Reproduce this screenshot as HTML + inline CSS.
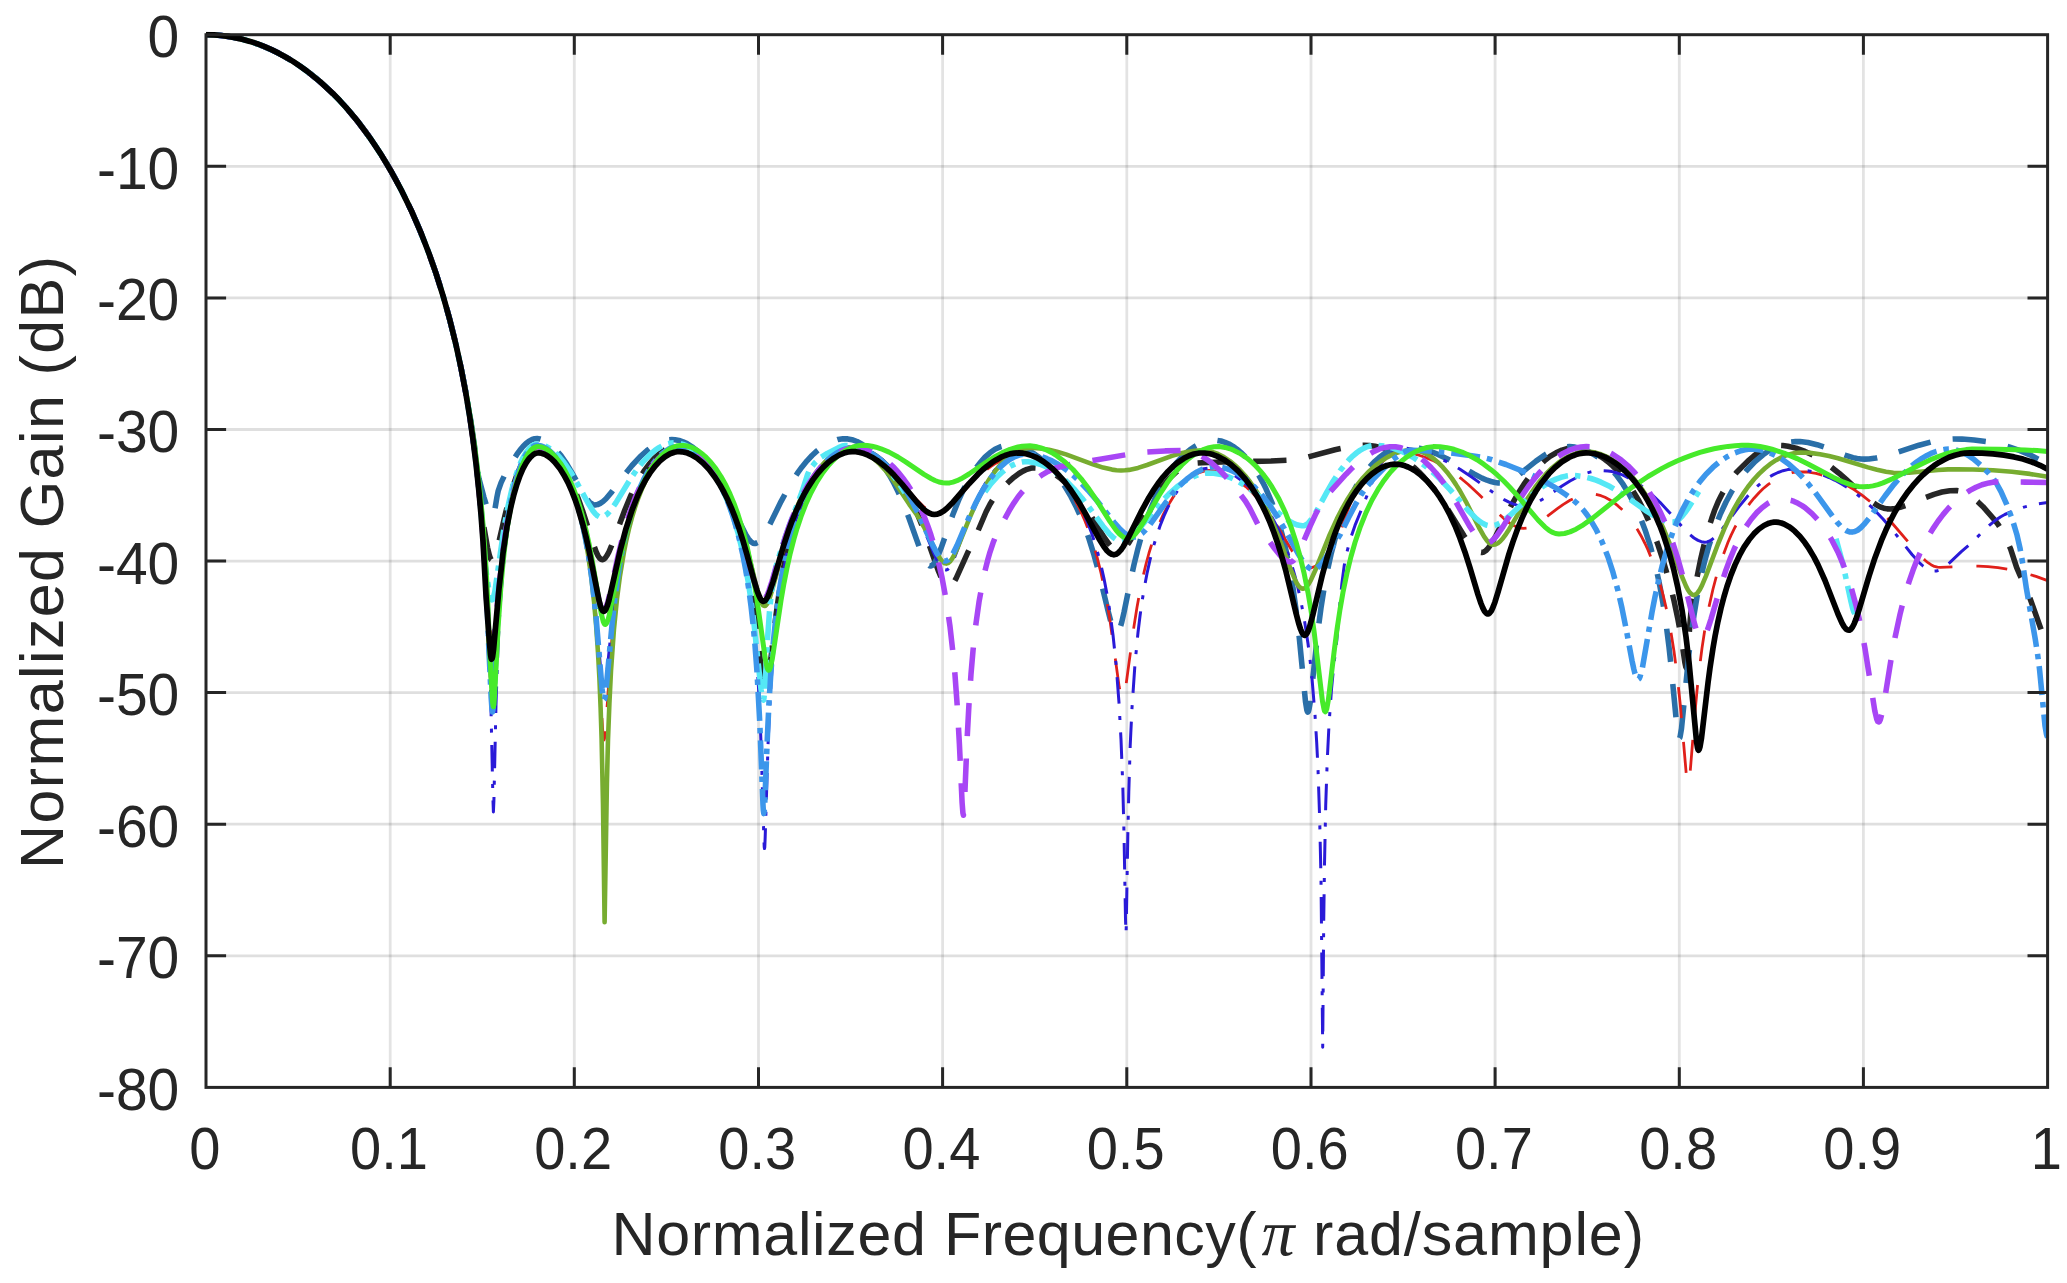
<!DOCTYPE html>
<html lang="en"><head><meta charset="utf-8"><title>Normalized Gain vs Normalized Frequency</title>
<style>html,body{margin:0;padding:0;background:#fff}body{width:2067px;height:1283px;overflow:hidden}svg{display:block}text{font-family:"Liberation Sans", sans-serif;fill:#262626}.tk{font-size:59px}.lb{font-size:61px}.cv{fill:none;stroke-linejoin:round;stroke-linecap:butt}</style></head><body>
<svg width="2067" height="1283" viewBox="0 0 2067 1283">
<rect width="2067" height="1283" fill="#fff"/>
<defs><clipPath id="ax"><rect x="206.0" y="31.7" width="1841.6" height="1055.7"/></clipPath></defs>
<path d="M390.2 34.7V1087.4M574.3 34.7V1087.4M758.5 34.7V1087.4M942.6 34.7V1087.4M1126.8 34.7V1087.4M1311.0 34.7V1087.4M1495.1 34.7V1087.4M1679.3 34.7V1087.4M1863.4 34.7V1087.4" stroke="#262626" stroke-opacity=".13" stroke-width="2.8" fill="none"/>
<path d="M206.0 166.3H2047.6M206.0 297.9H2047.6M206.0 429.5H2047.6M206.0 561.1H2047.6M206.0 692.6H2047.6M206.0 824.2H2047.6M206.0 955.8H2047.6" stroke="#262626" stroke-opacity=".15" stroke-width="2.8" fill="none"/>
<g clip-path="url(#ax)">
<path class="cv" d="M206 34.7L219 35.3L226 36.1L233 37.2L246 40.2L259 44.5L272 49.9L284 56.1L297 64L309 72.6L321 82.5L333 93.6L344 105.2L355 118L366 132.3L376 146.6L386 162.5L396 180L404 195.3L412 212.1L420 230.5L427 248.1L434 267.5L440 285.8L446 305.9L452 328.3L457 349.3L461 367.8L465 388.3L468 405.4L472 431.2L475 453.6L478 479.5L481 510.8L487.5 547.6L489.5 555.8L490.5 558.4L491.2 559.6L491.8 560L492.2 560L493.5 558.9L494.8 556.5L496.2 552.2L498 545.7L505 515.4L509 499.6L513 486.1L517 474.8L521 465.7L525 458.5L529 453.1L531 451.1L533.9 449L536.9 447.9L540.2 448L544 449L548 451L552 454.1L556 458L560 462.9L564 468.8L568 475.7L571 481.7L575 490.6L578 498L583 512L593 543.2L596.1 551.7L597.9 555.5L599.4 557.9L600.9 559.3L602.1 559.7L603.6 559.3L605.4 557.8L607.1 555.3L609 551.7L613 542.1L625 509.5L631 495.2L635 486.9L640 477.7L644 471.2L649 464.3L654 458.6L659 454L664 450.4L669 448L673.8 446.8L678.6 446.6L684 447.7L689 449.6L693 451.8L696 453.9L702 459L706 463.2L709 466.7L715 475.1L721 485.3L726 495.5L731 507.6L736 521.9L740 535.6L744 551.7L747 565.9L750 582.2L753 601.3L755 615.9L762.8 681.4L764.2 689.6L765 691.6L765.5 692L766 691.6L766.8 689.6L768.2 681.3L776 615.4L779 594L782 575.9L785 560.3L789 542.8L793 528L798 512.5L804 497.4L810 485L816 474.9L819 470.6L823 465.5L826 462.1L830 458.2L833 455.7L837 452.9L841 450.7L845 449.1L848.5 448.2L852 447.8L858 448.3L864 449.8L870 452.5L876 456.1L882 460.8L888 466.6L894 473.5L899 480.2L904 487.9L909 496.7L914 506.6L918 515.4L925 532.9L938 569.9L942 579.6L943.8 582.9L945.5 585.3L947 586.6L948.5 587L950.2 586.5L952 584.9L954 582.2L956 578.6L967.5 553.1L974.7 538.6L986 512L990 504.2L993.5 498.5L996.7 494.3L1004 486.6L1009 481.6L1014 477.2L1019 473.5L1023 471.1L1027 469.3L1030.5 468.3L1034.2 467.8L1038.2 468L1043 468.9L1047 470.3L1051 472.1L1056 475.1L1060 478L1065 482.3L1069 486.2L1073 490.6L1077 495.5L1082 502.1L1090 514.2L1104 537.1L1109 544.1L1112 547.5L1114.5 549.5L1117 550.7L1119.2 551L1121.5 550.4L1123.7 548.9L1126 546.6L1129 542.5L1134 534.1L1144 515.4L1150 504.8L1157 493.8L1163 485.7L1169 478.8L1176 472.3L1182 468L1188 465L1191.3 463.9L1194.3 463.2L1202 462.7L1222 462L1271 461L1291.4 460.1L1298 459.2L1305 457.8L1335 449.7L1349 446.8L1357 445.7L1363.9 445.3L1369.4 445.5L1375 446.2L1380 447.4L1386 449.4L1391 451.6L1397 454.8L1403 458.6L1408 462.3L1414 467.3L1419 472L1424 477.2L1429 483L1434 489.2L1439 496.1L1448 509.6L1464 535.8L1470 544.4L1473 547.8L1476.2 550.6L1479 552.1L1481.8 552.5L1483.8 552L1486 550.5L1488 548.4L1491 544.3L1496 535.5L1511 505.9L1519 491.9L1524 484.2L1529 477.3L1534 471.1L1539 465.8L1544 461.1L1550 456.4L1556 452.8L1562 450.1L1567 448.6L1572.7 447.8L1578.2 448.1L1584 449.1L1588 450.3L1592 451.9L1597 454.4L1601 456.8L1605 459.5L1609 462.7L1613 466.2L1617 470.2L1621 474.6L1625 479.5L1632 489.3L1639 501L1646 514.8L1652 528.7L1658 544.9L1663.8 562.7L1670 584.2L1674 600.6L1678 619.7L1681 635.8L1684.8 662.2L1685.8 666.8L1686.5 668L1687 665.9L1687.5 660.6L1689.5 629.3L1690.8 613.6L1692 603.5L1693.8 593.3L1700.8 558.6L1705 540.6L1708.5 528.4L1711.8 518.3L1714.8 509.8L1718 502.1L1721.5 495L1725.5 487.7L1729 482.2L1732.8 476.9L1736.2 472.8L1744 464.9L1749 460.1L1754 455.8L1759 452.1L1763 449.7L1767 447.7L1771 446.3L1774.6 445.5L1777.8 445.3L1782.8 445.5L1788 446.2L1796 448.1L1805 451.4L1813 455.2L1822 460.5L1830 466.1L1839 473.2L1847 480.2L1863 494.7L1870 500.6L1877 505.3L1880 506.9L1883.8 508.2L1887.2 508.9L1890.8 509L1895 508.5L1900 507.4L1908 504.7L1926 497.3L1934 494.3L1942 492L1949.8 490.7L1956.5 490.5L1959.2 490.9L1962 491.6L1965 492.8L1968 494.4L1974 498.5L1978 501.9L1983 506.7L1995 520.3L1998 524.3L2001 529L2005.8 538L2010.6 548.9L2016.6 567.4L2019.2 573.5L2025 585.8L2029.8 597.8L2041 629.2L2047.6 650" stroke="#262626" stroke-width="5.56" stroke-dasharray="33.3 22.3"/>
<path class="cv" d="M206 34.7L219 35.3L231 36.9L243 39.4L255 43L267 47.7L279 53.4L291 60.2L303 68.2L314 76.6L325 86L336 96.7L347 108.5L358 121.7L368 135L378 149.7L387 164.1L395 178.1L403 193.3L411 209.9L418 225.7L425 242.9L431 259L437 276.4L443 295.6L449 316.8L454 336.4L459 358.3L464 382.3L468 403.9L471 422.1L475 449.5L478 473.7L479 478.8L484 497.5L487 507L489.5 512.8L490.8 514.6L491.8 515.6L493 516L493.8 514.8L494.5 511.6L497 496.7L498.2 490.9L501.1 482.6L504.6 475.2L513 460.5L517 454.2L520 450.1L523 446.5L526 443.5L529 441.2L532.2 439.5L534.7 438.7L537.2 438.5L540 438.9L543 439.8L546 441.2L549 443.2L552 445.6L555 448.5L561 455.6L567 464.4L572 472.8L583 492.6L587 498.9L589.2 501.7L591.2 503.5L593.2 504.7L595 505L597.5 504.6L600.2 503.4L603 501.5L606 498.7L612 491.6L625 474.3L632 465.5L640 456.8L647 450.5L651 447.5L655 444.9L659 442.9L662 441.6L665 440.7L668.6 439.9L671.9 439.6L675.1 439.7L679 440.4L683 441.8L687 443.6L692 446.8L696 449.9L700 453.6L704 457.9L708 462.8L712 468.2L716 474.3L723 486.5L729 498.5L741 525.1L746 535L748.6 539.1L751.1 541.9L753.4 543.3L754.4 543.5L755.6 543.4L757.6 542.5L759.6 540.9L762 538.1L764 535.1L768 528L781 501.6L789 486.7L793 480L798 472.4L802 466.9L807 460.8L812 455.5L817 450.9L822 447L828 443.3L833 441.1L838 439.5L843 438.8L847.8 438.9L852 439.7L857 441.5L862 444.2L867 447.8L872 452.2L877 457.6L882 463.9L886 469.7L890 476.2L894 483.5L898 491.6L902 500.5L909 518.2L920 549.1L924 558.7L925.8 561.9L927.5 564.3L929.2 565.7L930.8 566L932.2 565.4L933.8 563.9L935.2 561.7L937 558.3L941 548.3L953 514.2L959 499.3L963 490.5L967 482.6L971 475.6L975 469.5L980 462.8L985 457.2L990 452.8L995 449.3L1000 446.9L1004.7 445.6L1009.5 445.3L1015 445.9L1022 447.8L1026 449.4L1030 451.4L1034 453.7L1038 456.5L1045 462.2L1052 469.3L1059 477.9L1065 486.6L1071 496.7L1076 506.4L1080 515.2L1085 527.6L1089 538.9L1094 554.9L1098 569.4L1108 610.6L1111 622.2L1112.8 627.4L1114.3 630.7L1115.5 632.4L1116.3 632.9L1117 633L1118 632.2L1119.3 630L1120.5 626.5L1121.8 622L1124 612.4L1130 583L1134 564.7L1138 548.4L1142 534.1L1146 521.6L1151 508L1156 496.3L1162 484.4L1169 472.8L1176 463.4L1183 455.8L1187 452.1L1191 449L1195 446.4L1199 444.2L1203 442.5L1206 441.5L1209.9 440.7L1213.6 440.3L1217.4 440.4L1221 441L1225 442.3L1229 444L1233 446.3L1237 449.2L1241 452.6L1245 456.5L1249 461.1L1252 465L1256 470.7L1259 475.6L1263 482.8L1266 488.8L1272 502.8L1277 516.9L1282 534L1286 550.4L1290 570.2L1293 588L1296 609.3L1299 634.8L1305.5 701.7L1306.8 709.9L1307.3 711.5L1307.8 712.1L1308.3 711.6L1309 709.3L1310.3 701.7L1318 630.4L1321 607.9L1324 588.9L1327 572.7L1331 554.4L1335 539L1339 525.9L1344 512L1350 498.1L1353 492.1L1357 484.8L1360 479.9L1364 474.1L1371 465.4L1375 461.3L1379 457.7L1383 454.6L1387 452.1L1391 450L1395 448.4L1399 447.2L1402.1 446.7L1405.3 446.6L1409.6 446.7L1414 447.2L1419 448.1L1424 449.3L1429 450.9L1438 454.4L1447 458.7L1456 463.6L1474 473.9L1482 478.1L1487 480.2L1491 481.5L1495 482.5L1498.2 482.9L1501.7 483L1504.5 482.7L1508 481.5L1511 480.1L1518 475.5L1536 461.1L1545 454.8L1550 451.9L1555 449.6L1560 447.8L1564.4 446.9L1569.4 446.6L1575 447.1L1581 448.5L1587 450.8L1593 454L1598 457.3L1604 462.1L1609 466.8L1616 474.7L1623 484.2L1629 494L1635 505.4L1640 516.6L1645 529.7L1650 545.1L1654 559.7L1657 572.4L1660 586.8L1663 603.6L1666 623.3L1669 647L1671 665.4L1677 728L1678.2 736.2L1678.7 737.9L1679.2 738.5L1679.7 738L1680.2 736.4L1681.5 728.5L1689 653L1691 636.4L1694 615L1697 597L1701 576.8L1705 559.9L1709 545.6L1714 530.3L1720 514.9L1726 502L1732 491L1739 480.2L1743 474.8L1747 470L1755 461.6L1763 454.8L1767 452L1772 448.9L1777 446.4L1782 444.4L1787 442.9L1791 442.1L1795.5 441.6L1800 441.6L1808 442.5L1817 444.7L1826 447.7L1845 455.1L1853 457.6L1857 458.5L1861 459L1864.6 459.1L1868.9 459L1876 458L1885 456L1894 453.3L1919 445.2L1933 441.5L1941 440.1L1948 439.3L1954 439L1962 439.1L1974 440L1986 441.5L1998 443.9L2009 446.9L2020 450.7L2030 454.9L2039 459.6L2047.6 465" stroke="#2a6fa8" stroke-width="5.56" stroke-dasharray="33.3 22.3"/>
<path class="cv" d="M206 34.7L214 34.9L221 35.5L228 36.4L235 37.6L242 39.2L249 41.1L256 43.4L263 46L270 49L277 52.3L290 59.6L297 64L304 68.9L317 79L330 90.7L337 97.7L343 104.1L355 118L367 133.7L378 149.7L389 167.5L399 185.6L409 205.6L418 225.7L426 245.5L434 267.5L441 289L447 309.5L453 332.3L458 353.7L464 382.7L468 404.7L472 430L475 451.8L478 477.2L481 507.7L483 532.2L485 561.8L487 598.9L490.2 630L491.2 636.6L492.2 639.9L492.8 639.9L493.5 637.9L494.8 630.2L502 561.1L504 545.6L507 526L510 509.9L513 496.7L517 482.4L521 471.2L525 462.7L527 459.3L530 455.2L532.2 453L534.2 451.5L536.4 450.6L538.4 450.3L541.7 450.8L545 452.1L548 453.9L551 456.3L554 459.3L557 462.9L560 467.2L563 472.2L567 480L571 489.4L575 500.6L578 510.5L581 522L584 535.4L587 551.3L589 563.7L591 577.9L593 594.5L596 625.4L598.8 662.9L602.5 727.6L603.2 736.6L603.8 739.6L604 740L604.2 739.7L604.8 737.4L605.5 730.2L611 649.7L613 626.7L615 607.4L618 583.7L621 564.4L624 548.3L628 530.5L633 512.6L638 498.2L641 490.9L644 484.3L647 478.6L650 473.4L653 468.9L657 463.6L660 460.3L664 456.6L668 453.8L671 452.2L674.1 451.1L677.4 450.4L679.9 450.4L682.6 450.6L688 452L691 453.2L694 454.8L700 458.9L706 464.5L711 470.1L717 478.3L722 486.5L726 494L730 502.5L734 512L737 520L741 531.8L745 545L756 586.6L758.7 595.9L760.5 600.8L762 604L763.5 605.9L764.7 606.4L766 605.9L767.5 604.2L769 601.2L770.5 597.4L774 585.7L783 552.6L788 536.1L791 527.2L795 516.4L798 509L802 500.2L806 492.4L810 485.4L814 479.2L819 472.5L823 467.9L828 462.9L833 458.9L838 455.7L842 453.8L846.8 452.3L850.8 451.7L854.8 451.7L859 452.2L864 453.5L869 455.5L874 458.1L878 460.6L883 464.3L887 467.7L892 472.3L901 481.8L917 500.1L923 506.1L926 508.5L929.2 510.5L932 511.6L934.8 512L937.8 511.7L941 510.7L944 509.1L948 506.3L955 500L972 482.6L981 474.2L986 470.1L991 466.4L996 463.2L1001 460.5L1006 458.3L1011 456.7L1016.1 455.7L1021.1 455.4L1025.6 455.7L1030 456.7L1035 458.4L1040 460.9L1047 465.5L1054 471.5L1061 479.1L1068 488.5L1074 498.1L1080 509.6L1085 520.9L1090 534.1L1094 546.4L1097 556.9L1101 572.9L1104 586.7L1107 602.5L1110 620.6L1119.2 686.9L1121 695L1121.8 696.9L1122.5 697.5L1123.2 696.8L1124 694.9L1125.8 686.5L1134 626.1L1137 607.2L1140 590.8L1143 576.5L1146 564L1149 553L1153 540.1L1158 526.5L1163 515.1L1168 505.4L1174 495.8L1180 487.9L1186 481.6L1192 476.7L1196 474.3L1199 472.8L1204.1 471.1L1209 470.5L1214.8 470.9L1221 472.2L1227 474.4L1233 477.4L1240 482L1246 486.8L1252 492.5L1257 497.9L1263 505.2L1268 511.9L1276 524L1292 550.8L1298 559.8L1301 563.4L1303.8 566L1306.2 567.4L1308.8 568L1311.2 567.8L1314 566.9L1317 565.2L1320 563L1326 557.2L1334.8 547L1336.2 544.1L1338 539.6L1346 515L1351 501.7L1353.2 496.9L1355.2 493.2L1362 483.4L1366 478.3L1371 472.7L1386 458.5L1391 454.5L1393.5 453.1L1395.8 452.3L1399.2 452L1406 452.5L1412 453.5L1419 455.2L1425 457.2L1432 460.1L1438 463.1L1445 467.1L1456 474.6L1462 479.2L1468 484.3L1479 494.5L1498 513.3L1506 520.4L1510 523.4L1513 525.2L1517 527.1L1520 528L1523.6 528.4L1527.1 528L1531 526.8L1535 524.9L1542 520.3L1557 508.9L1563 504.6L1570 500.3L1577 497L1583 495L1586.2 494.4L1589.5 494L1595.2 494.3L1601 495.7L1605 497.3L1610 500L1614 502.7L1618 505.9L1622 509.6L1626 513.9L1630 518.8L1634 524.3L1638 530.5L1641 535.7L1645 543.5L1648 550L1654 565L1659 580.2L1663 594.6L1667 611.7L1671 632.5L1674 651.3L1677 674L1680 701.8L1686.2 773.2L1687.2 780.7L1687.7 782.8L1688.2 783.5L1688.7 782.7L1689 781.5L1690 774.1L1695 712.5L1697 690.7L1699 671.9L1702 648.1L1705 628.4L1709 606.8L1713 589L1717 573.9L1722 558.1L1728 542.3L1731 535.4L1735 527.2L1742 514.8L1746 508.6L1750 503.1L1754 498.2L1759 492.7L1763 488.8L1768 484.6L1772 481.7L1777 478.5L1781 476.5L1785 474.8L1792 472.7L1795.5 472.1L1799 471.8L1807 472L1816 473.4L1826 476L1836 479.8L1846 484.8L1854 489.6L1862 495.1L1870 501.5L1877 507.7L1884 514.5L1892 523L1914 548.7L1921 556.4L1925 560.2L1928 562.7L1931 564.7L1934.4 566.4L1937.4 567.2L1940.4 567.4L1968 566.2L1978.4 566.2L1988 566.6L1998 567.6L2011 569.7L2023 572.5L2036 576.4L2047.6 580.7" stroke="#e0201a" stroke-width="2.78" stroke-dasharray="31 24"/>
<path class="cv" d="M206 34.7L214 34.9L223 35.7L231 36.9L239 38.5L247 40.5L255 43L263 46L271 49.4L279 53.4L287 57.8L295 62.7L302 67.5L310 73.4L317 79L325 86L332 92.7L339 99.8L346 107.4L353 115.6L360 124.3L367 133.7L373 142.2L380 152.8L386 162.5L392 172.8L398 183.7L409 205.6L419 228.1L429 253.5L437 276.4L444 299L451 324.4L457 349.3L464 382.1L469 409.2L474 441.4L478 472.8L481 501.4L484 537.1L486 567.2L488 605.9L490.1 666.7L492.9 798.1L493.4 811.9L493.9 800.9L496 704.5L498 647.2L499.4 619.4L501 594.6L503 570.3L505 551L507 535L510 515.7L513 500.3L517 484.1L521 471.8L525 462.4L527 458.7L529 455.6L531 453.1L533.9 450.5L536.2 449.4L538.4 449.1L541.7 449.5L545 450.8L548 452.6L551 455L554 458L557 461.6L560 465.9L563 470.8L568 480.8L573 493.2L578 508.8L582 524.2L585 538L588 554.3L591 573.9L594 597.8L596 616.7L601.5 678.2L602.8 687.4L603.3 689.3L603.8 690L604.3 689.5L605 687.1L606.3 678.6L612 622.6L615 597.1L618 575.9L622 552.8L627 530L630 518.7L633 508.8L636 500.1L639 492.3L642 485.4L646 477.4L650 470.5L654 464.7L658 459.8L663 454.9L668 451.2L672 449.3L676 448.1L680 447.8L685 448.6L690 450.4L695 453.3L700 457.1L705 462L709 466.7L714 473.7L718 480.2L724 492L729 503.8L734 518.1L738 531.8L742 548.3L745 562.9L748 580.3L751 601.5L753 618.6L755 639L757 664.2L758.8 692.3L761 742.1L763.8 835.6L764.2 847L764.5 848.6L764.8 847.1L765.2 836.6L768.2 739.8L770.5 692.5L772 669L774 643.8L776 623.4L779 598.7L782 578.9L786 557.6L790 540.3L794 525.8L799 510.8L804 498.4L810 486.1L816 476L819 471.7L823 466.6L827 462.3L831 458.5L835 455.4L839 453L843 451.1L846 450L849.5 449.3L853 449.1L857 449.4L861 450.2L865 451.5L869 453.3L873 455.5L877 458.2L884 464L891 471.3L898 480.2L904 489.2L911 501.5L917 513.7L923 527.2L933 551.3L937 560L940 565.2L942 567.8L944.2 569.6L946.2 570L947.8 569.4L949.5 567.7L951.2 564.9L953 561.4L957 551.3L968 520.5L974 505.7L978 497L982 489.2L986 482.3L990 476.2L994 470.9L999 465.3L1004 460.9L1009 457.5L1013 455.6L1017.8 454.3L1022 454.1L1027 454.7L1033 456.3L1039 458.8L1045 462.4L1051 466.8L1057 472.4L1062 477.8L1068 485.5L1073 493.1L1078 501.7L1083 511.7L1087 520.9L1091 531.4L1095 543.4L1098 553.7L1101 565.3L1104 578.6L1107 594.1L1109 606L1113 634.9L1116 663.5L1119 702.6L1121 739.4L1122.8 785.5L1124 834L1125.5 918.8L1126 933.7L1126.2 928.6L1127.8 836.4L1128.8 791.7L1130.2 745.5L1132 708L1135 663.7L1138 632.5L1140 616L1142 601.8L1144 589.4L1147 573.5L1150 559.9L1153 548.1L1156 537.9L1160 526L1164 515.9L1168 507.1L1173 497.8L1178 490L1183 483.6L1188 478.3L1193 474.1L1196 472.1L1199 470.5L1204 468.7L1208.8 468L1214.8 468.3L1221 469.6L1228 472.2L1235 475.8L1242 480.7L1248 485.8L1255 492.9L1261 500.3L1267 508.9L1272 517.2L1277 526.7L1282 537.7L1287 550.5L1291 562.4L1295 576.2L1298 588.1L1301 601.7L1304 617.5L1308 643.5L1310 659.5L1312 678.3L1315 714.8L1316.7 742.6L1318 768.7L1319.7 820L1321 879.1L1322.7 1047.2L1323.7 923.3L1324.5 864.6L1325.7 805.7L1327.2 761.2L1329 724.8L1331.5 689.2L1333.8 665.6L1336.8 640.2L1340 602.3L1342 582.5L1344.2 565.6L1346.5 553.7L1350.2 539.5L1355 525.4L1364.2 502.7L1372 482.7L1377 471.1L1381 463.4L1384 458.5L1388 453.4L1391 450.6L1394 448.7L1396.8 447.9L1402 447.9L1408 448.5L1415 449.7L1422 451.5L1429 453.7L1436 456.5L1448 462.2L1460 469.3L1472 477.3L1495 493.8L1504 499.6L1509 502.2L1513 503.9L1517 505.1L1521.2 505.9L1525 506L1528.8 505.5L1533 504.2L1537 502.4L1545 497.8L1562 486.1L1570 481L1578 476.7L1586 473.3L1590 472.1L1594 471.2L1600.9 470.5L1608 470.9L1612 471.6L1616 472.7L1623 475.2L1630 478.6L1637 482.8L1644 487.9L1652 494.6L1660 502.3L1668 510.9L1683 527.7L1690 534.7L1694 538L1698 540.4L1701.3 541.7L1704.3 542.2L1707 541.9L1709.8 540.9L1713 538.7L1716 536L1722 529.2L1739 506.6L1748 495.7L1753 490.4L1758 485.7L1763 481.5L1768 477.9L1773 474.9L1778 472.5L1783 470.7L1787.7 469.6L1792.2 469.2L1797.9 469.4L1804 470L1810 471.2L1816 472.7L1822 474.7L1829 477.5L1835 480.3L1842 484.2L1848 487.9L1854 492.1L1860 496.8L1866 501.9L1872 507.5L1883 519L1893 530.7L1912 554.5L1919 562.3L1923 566L1927 568.8L1930.4 570.4L1933.6 571.1L1936.4 571L1939.4 570.1L1943 568.1L1946 565.9L1950 562.4L1961.3 551.7L1970.3 544L1984 530.4L1989 525.6L1995 520.6L2000.8 516.7L2004.8 514.5L2011.3 511.7L2018 509.1L2024 507.1L2035 504.3L2047.6 502.5" stroke="#2a1ad8" stroke-width="3.00" stroke-dasharray="26.5 12.4 4 12.4"/>
<path class="cv" d="M206 34.7L214 34.9L221 35.5L228 36.4L236 37.8L244 39.7L251 41.7L258 44.1L265 46.8L273 50.4L280 53.9L287 57.8L294 62.1L301 66.8L308 71.9L315 77.4L322 83.3L335 95.6L342 103L348 109.7L355 118L361 125.6L373 142.2L385 160.8L396 180L406 199.4L416 221.1L425 242.9L433 264.6L440 285.8L447 309.5L453 332.3L458 353.7L464 382.7L469 410.7L473 436.9L476 459.8L479 486.7L482 519.4L484 546.3L486 579.7L489 650.5L491.2 682.4L492 688.7L492.5 690L492.8 689.6L493.2 686.9L494 678.5L497.5 621L500 587L502 565.3L504 547.4L507 525.7L511 503.4L515 486.4L519 473.3L521 468L524 461.2L526 457.5L529 453L531.7 450.1L534.2 448.3L536.7 447.4L539.4 447.4L543.2 448.4L547 450.4L551 453.6L554 456.6L558 461.6L561 466.1L565 473.2L568 479.4L573 491.9L577 504.1L581 519L585 537.3L588 554.2L591 574.9L594 601.4L596 623.9L598 652.7L599.4 677.8L600.6 707.5L601.6 738.8L603 804.4L604.6 922.1L606.9 783.5L608 739.8L609.4 703.4L611 670.7L614 628.7L617 598.8L620 575.8L624 551.8L626 541.8L629 528.7L632 517.4L635 507.5L638 498.8L642 488.7L646 480.1L650 472.7L654 466.4L658 461.1L662 456.6L667 452.2L672 449.1L676 447.4L678.6 446.8L681.4 446.6L684.1 446.7L687.1 447.2L690 448.1L693 449.4L696 451L699 453L705 458L711 464.6L717 472.7L722 480.9L726 488.4L730 497L734 506.7L738 517.7L742 530.2L746 544.3L756 584.8L758.8 595.1L760.2 599.7L761.8 603.2L763.2 605.4L764.5 606L765.8 605.5L767.2 603.6L768.8 600.4L770.5 595.5L773 587L784 545.3L787 535.2L791 523L794 514.8L798 504.8L801 498.1L805 490.1L810 481.3L815 473.7L820 467.3L826 461L831 456.8L837 452.9L840 451.4L843 450.3L848.5 449.1L852.8 449.1L857 449.7L861 451L866 453.4L870 455.9L875 459.8L880 464.4L885 469.9L890 476L895 482.8L909.3 504.3L915.8 513.3L918.8 517.9L924 527L936 551.5L940 558.5L941.8 560.9L943.3 562.3L944.8 563.3L946.3 563.6L948 563.1L950 561.5L952 558.9L954 555.4L958 546.7L969 519.4L975 505.6L982 491.5L989 479.7L996 470L1000 465.2L1004 461.1L1008 457.5L1012 454.5L1016 452L1020 450.1L1025.4 448.4L1030.6 447.8L1040 448.4L1049 449.8L1057 451.7L1066 454.4L1093 464.3L1103 467.6L1112 469.6L1116.5 470.2L1121 470.5L1125 470.3L1129 469.9L1138 467.9L1147 465L1172 455.9L1180 453.5L1187 451.9L1195 450.7L1202.3 450.3L1207.5 450.8L1213 452.1L1218 454L1224 457.1L1230 461.1L1235 465.2L1240 470L1245 475.5L1250 481.8L1255 489L1260 497L1264 504.2L1268 512.1L1272 520.8L1279 537.8L1291 570.2L1295 579.7L1297 583.6L1299 586.5L1301 588.3L1302.7 588.8L1304.7 588.2L1306.7 586.5L1308.7 583.8L1311 579.8L1316 568.7L1329 536.3L1337 518.6L1342 508.9L1347 500.1L1352 492.3L1357 485.3L1363 477.8L1369 471.4L1375 465.9L1381 461.2L1387 457.4L1394 453.9L1400 451.8L1406 450.5L1411 450L1415.2 450.2L1420 451.3L1424 452.8L1429 455.5L1434 459L1439 463.3L1443 467.4L1448 473.3L1452 478.6L1456 484.6L1460 491L1466 501.8L1479 527.5L1484 536.4L1487 540.6L1488.9 542.6L1491 544.1L1493.2 544.7L1495.4 544.4L1497.9 543.2L1500 541.5L1503 538.2L1506 534.1L1509 529.4L1526 500.8L1535 487.5L1540 480.9L1546 474L1552 468L1558 462.9L1564 458.8L1570 455.6L1576 453.3L1582.5 451.8L1588 451.6L1594 452.3L1600 453.9L1607 456.8L1613 460.2L1618 463.7L1623 467.8L1628 472.5L1633 477.8L1638 483.9L1643 490.7L1647 496.8L1651 503.5L1655 510.8L1659 518.8L1663 527.5L1669 541.9L1682 576.7L1686 586.1L1688 590L1690 592.8L1692 594.6L1693.8 595.1L1695.5 594.6L1697.5 592.9L1699.8 589.6L1702 585.4L1706 575.9L1718 544L1725 527.2L1729 518.6L1734 508.9L1738 501.8L1743 493.9L1748 486.8L1754 479.3L1759 473.9L1765 468.3L1770 464.2L1776 460.2L1782 457L1788 454.7L1794 453.1L1800.5 452.5L1810 452.9L1820 454.2L1829 456L1838 458.3L1868 467.4L1877 469.8L1886 471.8L1893.4 472.7L1899.9 473L1909 472.7L1938 470L1948 469.4L1957.3 469.2L1973 469.5L1993 470.3L2012 471.8L2030 473.9L2047.6 476.8" stroke="#77ac30" stroke-width="4.60"/>
<path class="cv" d="M206 34.7L213 34.9L220 35.4L227 36.2L234 37.4L241 38.9L248 40.8L261 45.2L274 50.9L287 57.8L300 66.1L313 75.8L326 87L338 98.7L350 112L361 125.6L372 140.7L383 157.6L393 174.5L403 193.3L411 209.9L419 228.1L427 248.1L434 267.5L441 289L447 309.5L453 332.3L458 353.7L462 372.7L466 393.8L470 417.8L473 438.4L477 470.6L480 500L482 523.4L485 563.8L489 591L490.5 597.6L491.2 599.4L491.8 599.9L492.5 599.7L493.2 598.2L494.8 591.8L504 528.1L508 506.3L512 488.9L516 475.1L518 469.3L521 461.9L523 457.8L526 452.6L529 448.6L531.4 446.3L533.9 444.7L536.2 444.1L539.4 444.2L542.7 445L546 446.3L550 448.7L553 450.9L557 454.5L560 457.7L564 462.6L571 472.7L577 482.8L588 503L593 510.9L595.3 513.8L597.3 515.6L599.3 516.7L601.1 517L603.3 516.6L605.8 515.2L608 513.3L611 509.8L616 502.6L629 481.2L636 470.8L640 465.5L644 460.7L651 453.6L655 450.3L659 447.6L663 445.4L667 443.9L671 443L674.8 442.8L678.8 443.3L683 444.4L686 445.6L690 447.7L694 450.4L697 452.9L701 456.6L704 459.8L708 464.7L711 468.9L717 478.5L723 490.2L729 504.6L734 519.1L738 532.9L742 549.3L745 563.7L748 580.4L751 600.2L754 623.7L761 689.3L762.2 697.1L763 699.5L763.5 700L764 698L764.8 689L767.5 639.7L769.5 611.4L771.5 591.2L773.8 576.2L775.5 568.5L777.8 560.2L785.2 537.3L791.5 519.7L802.2 491.3L807.7 474.2L809.2 470.6L810.5 468.3L815.2 462.5L818 459.8L821 457.4L827.3 453.4L838.5 447.6L842.2 446.1L845.5 445.5L850.2 445.8L855 446.7L861 448.7L868 452.2L875 457L881 462.1L887 468.2L893 475.3L899 483.5L905 492.8" stroke="#55e8f5" stroke-width="5.56" stroke-dasharray="29 7 5.5 7"/>
<path class="cv" d="M985 491.8L991 483.7L998 475.9L1001 473.1L1005 469.8L1009 467.1L1012 465.4L1016 463.6L1019 462.6L1022 462L1024.8 461.7L1028.3 461.8L1032 462.2L1036 463L1040 464.3L1046 466.8L1053 470.8L1060 475.8L1067 481.8L1074 488.9L1082 498.2L1089 507.2L1103 526.2L1109 533.4L1113 537.3L1115.7 539.2L1118.7 540.5L1121.5 541L1124.5 540.5L1127.5 539.2L1131 536.9L1134 534.2L1140 527.7L1155 509.3L1162 501.2L1170 493L1177 486.8L1185 481.1L1192 477.3L1196 475.6L1200 474.3L1203.6 473.5L1206.8 473.1L1213.6 473.2L1221 474.4L1229 477L1237 480.7L1245 485.4L1254 491.8L1263 499.2L1281 515L1289 521L1294 523.7L1297.7 525.1L1302 525.8L1303.5 525.8L1304.7 525.5L1306.5 524.5L1308.5 522.8L1311 519.8L1313 516.9L1317 510.3L1327 491.9L1333 481.5L1340 470.9L1346 463.2L1350 458.7L1353 455.8L1357 452.5L1360 450.4L1364 448.1L1367 446.8L1370.1 445.9L1373.1 445.4L1378.1 445.4L1384 446L1389 447L1395 448.8L1401 451.1L1407 454L1413 457.3L1419 461.3L1429 468.9L1434 473.3L1440 479.1L1450 489.6L1469 511.3L1476 518.4L1480 521.6L1483 523.5L1486.1 525L1489.4 525.8L1492.6 525.7L1496.1 524.9L1500 523.1L1504 520.5L1511 514.6L1525 501.3L1532 494.9L1539 489.2L1545 485L1551 481.4L1556 479.1L1561 477.3L1566 476.1L1569.7 475.6L1573.2 475.5L1577.4 475.8L1582 476.4L1591 478.5L1596 480.2L1601 482.2L1610 486.6L1619 491.9L1628 497.9L1647 511.4L1655 516.4L1659 518.5L1663 520.2L1667.1 521.4L1671 522L1673.8 522L1676.3 521.2L1679 519.4L1682 516.4L1685 512.6L1688 508.4L1702 486.6" stroke="#55e8f5" stroke-width="5.56" stroke-dasharray="29 7 5.5 7"/>
<path class="cv" d="M1836 538.8L1842.9 563.9L1851 601.7L1852.5 607.8L1853.8 611.8L1855.2 614.6L1856 615L1856.8 614.5L1857.5 613.1L1858.2 610.8L1860 603.4" stroke="#55e8f5" stroke-width="5.56" stroke-dasharray="29 7 5.5 7"/>
<path class="cv" d="M206 34.7L214 34.9L222 35.6L230 36.7L237 38L245 40L252 42L260 44.8L267 47.7L275 51.3L282 55L289 59L296 63.4L303 68.2L310 73.4L317 79L324 85.1L337 97.7L344 105.2L350 112L357 120.5L363 128.2L375 145.1L381 154.4L387 164.1L398 183.7L408 203.5L418 225.7L427 248.1L435 270.4L442 292.3L449 316.8L456 344.9L462 372.6L467 398.9L471 423.3L475 451.8L478 477.2L481 507.7L483 532.3L485 562.1L486.5 589.7L488.8 647.5L491.2 698.1L492 709.4L492.5 712L493 709.8L493.8 699.4L497.2 627.9L500 586.4L502 563.7L504 545.1L506 529.7L508 516.6L511 500.3L514 487.1L517 476.3L521 464.9L524 458.2L526 454.6L528 451.6L530 449.1L532 447.3L534 446L535.9 445.4L538.4 445.4L541.4 446L544 447.1L547 448.9L550 451.2L553 454.1L556 457.7L559 461.8L562 466.6L565 472.1L570 483.1L575 496.8L579 510.2L583 526.5L586 541.2L589 558.6L592 579.7L596 616L602 688.5L603 696.9L603.5 699.2L604 700L604.5 699.4L605 697.5L606.2 688.3L612 624.9L615 597.7L618 575.4L621 557L623 546.4L626 532.4L631 513.2L634 503.6L637 495.1L640 487.6L644 478.9L648 471.5L652 465.2L656 459.9L660 455.5L664 452L669 448.9L673.1 447.2L677.1 446.6L681.6 446.9L686 448L691 450.3L696 453.5L701 457.8L706 463.1L711 469.5L715 475.6L721 486.4L726 497.4L731 510.5L735 522.9L739 537.7L743 555.5L746 571.5L749 590.7L751 606L753 623.8L755 645.3L757 671.9L759.8 723.1L763 805.2L763.3 810.2L763.8 813.6L764.3 810.4L764.8 802L767.3 738.6L769 702.1L771 670.8L773 645.5L776 615.9L779 592.8L782 574L786 553.6L791 533.2L794 523L797 513.9L800 505.8L804 496.2L807 489.9L811 482.4L815 475.8L819 470.1L823 465.1L827 460.8L831 457.1L836 453.4L841 450.6L845 449.1L850.3 448L855.5 448L861 448.9L867 451L873 454.2L879 458.4L885 463.6L891 469.8L896 475.9L901 482.9L906 490.7L910 497.6L918 513.2L932 543.9L937 553.5L939 556.5L940.8 558.7L942.6 560.2L944.3 561L946.3 560.9L948.6 559.6L950.8 557L953 553.5L957 545.5L969 517.4L976 502.5L980 494.9L984 488.1L988 481.9L992 476.4L996 471.5L1001 466.3L1005 462.8L1010 459.2L1015 456.6L1019 455.1L1023 454.3L1026.8 454.1L1031.8 454.5L1037 455.4L1042 456.8L1047 458.7L1052 460.9L1057 463.7L1062 466.8L1068 471.2L1073 475.3L1078 479.8L1088 490.2L1097 500.8L1114 522.3L1120 529.1L1124 532.8L1127 534.9L1130.3 536.5L1133.3 537.1L1136.1 536.9L1138.8 535.8L1142 533.5L1145 530.6L1150 524.5L1166 502.2L1174 492.1L1179 486.5L1183 482.5L1188 478.1L1192 475.1L1197 471.9L1202 469.4L1206 468L1210.9 467L1215.4 466.7L1220.1 467.1L1225 468.2L1230 469.9L1234 471.7L1238 473.9L1242 476.5L1246 479.4L1254 486.5L1262 495.2L1270 505.6L1277 516.2L1284 528.1L1298 553.5L1303 561.5L1306 565.3L1308.5 567.6L1311 569.1L1313.2 569.5L1314.7 569.3L1316 568.8L1319 566.5L1322 563.1L1326 557.3L1340.5 534.1L1348.5 517.7L1356 503.5L1361 494.8L1365.8 487.9L1373 479.4L1389 462.9L1392.5 459.9L1402 453.1L1406 451.2L1409.6 450.4L1421 450.5L1433 451.2L1450 452.8L1470 455.4L1482.3 457.3L1492 459.7L1506 464.5L1528 473.4L1541 479.5L1554 486.8L1566 494.7L1572.2 499.3L1576.4 502.8L1579.7 506L1583 509.6L1587 514.7L1590 519.1L1596 529.3L1602 541.7L1608 557L1613 572.4L1618 590.8L1622 608.2L1626 628.2L1632 660.6L1633.9 669.4L1635 673.7L1636.1 677L1637.1 678.8L1638.1 679.4L1639.1 678.7L1640.1 676.6L1642.4 667.9L1652 612.3L1655 596.8L1659 578.6L1662 566.6L1666 552.4L1669 543L1673 531.7L1678 519.4L1683 508.8L1688 499.4L1694 489.7L1700 481.4L1706 474.2L1713 467.2L1720 461.4L1727 456.8L1734 453.2L1741 450.7L1745 449.8L1748.4 449.3L1755.2 449.2L1762 450.2L1769 452.4L1776 455.6L1782 459.2L1789 464.3L1796 470.5L1803 477.7L1808 483.4L1813 489.6L1819 497.6L1833 517L1837 522.1L1841 526.5L1844 529.1L1846.8 530.9L1849.6 531.9L1852 532.1L1854.8 531.5L1857.6 530.2L1861 527.5L1864 524.4L1870 517L1885 496L1894 484.3L1903 474.2L1908 469.3L1912 465.7L1917 461.7L1922 458.3L1927 455.4L1931 453.4L1936 451.5L1941 450.1L1945.5 449.3L1950 449.1L1954.5 449.5L1959 450.8L1963 452.5L1968 455.2L1973 458.7L1978 462.8L1984 468.4L1990.5 475L1993.3 478.5L1996 482.5L2001 491.6L2006.8 504.7L2012.5 520L2016.8 534.2L2020 548.1L2022.3 561.1L2026.4 588.6L2035.2 638.7L2037.7 655L2039.5 668.9L2045 725.7L2046.4 733.9L2047.1 736.2L2047.6 737" stroke="#3c96eb" stroke-width="5.56" stroke-dasharray="29 7 5.5 7"/>
<path class="cv" d="M206 34.7L214 34.9L221 35.5L228 36.4L235 37.6L242 39.2L249 41.1L256 43.4L263 46L270 49L277 52.3L284 56.1L291 60.2L298 64.7L305 69.6L318 79.9L331 91.7L338 98.7L344 105.2L356 119.2L368 135L379 151.2L390 169.3L400 187.5L410 207.8L419 228.1L427 248.1L435 270.4L442 292.3L448 313.1L454 336.4L460 363L465 388.3L469 411.5L472 431.2L475 453.7L478 479.8L481 511.4L483 537.1L485 568.5L486.5 598L490 638.6L491 646.8L491.8 649.8L492 650L492.2 649.8L492.8 648.6L494 640.6L499 586.8L503 550.8L506 529.9L510 507.9L512 498.9L515 487.3L518 477.7L521 469.7L524 463.1L528 456.4L531 452.8L532.7 451.3L534.4 450.1L536.2 449.4L538 449.1L540.7 449.3L543.2 450L546 451.3L548 452.5L553 456.7L558 462.5L562 468.3L567 477.3L571 486.1L574 493.6L577 502.1L580 511.8L583 522.6L586 534.9L589 548.7L599 600.6L600.3 605.6L601.3 608.5L602.3 610.4L603.3 611L604.3 610.5L605.5 608.6L607.8 602.2L611 588.9L618 556.2L623 535.6L626 524.7L629 514.9L635 498.2L638 491.1L642 482.7L646 475.4L650 469L654 463.6L658 459.1L662 455.3L667 451.6L670 450L673 448.8L675.9 448.1L678.6 447.8L681.6 448L684.6 448.5L688 449.5L691 450.8L694 452.5L698 455.2L704 460.5L710 467.2L716 475.5L721 483.8L725 491.5L730 502.4L734 512.5L739 526.9L743 539.9L754 581L756.6 589.7L758.4 594.5L759.9 597.6L761.4 599.5L762.6 600L764.1 599.4L765.6 597.7L767.4 594.5L769 590.4L772 581.4L780 554.1L785 538L789 526.3L794 513.4L798 504.2L803 494L808 485.1L813 477.4L819 469.5L826 462L833 456.2L836 454.1L840 451.8L844 450L847 449L850.3 448.3L853.6 447.9L857 447.9L860.6 448.2L864 448.9L868 450L874 452.5L879 455.3L884 458.7L889 462.8L894 467.6L899 473.1L904 479.5L908 485.2L912 491.7L916 498.9L920 507L924 516.1L928 526.4L931 535.2L934 544.9L937 555.8L942 577.4L946 599.1L950 626.5L953 653.1L955 675L957.4 708.2L959.4 744L962.1 802.6L962.9 813L963.4 815.2L963.9 812.3L964.4 804.6L967.1 739.4L968.9 705.5L971 674.1L973 650.7L976 623.3L979 602.1L983 579.9L985 570.8L988 559L990 552.1L993 543.1L995.4 536.9L998.2 530.7L1010 509.2L1014 502.8L1018 497L1021.6 492.5L1025.3 488.6L1032 482.6L1038 477.8L1043 474.3L1048 471.4L1052.6 469.2L1056.8 467.7L1066 465.3L1076 463.2L1101.6 459.1L1129 454.2L1144 452.2L1165 450.9L1182.8 450.5L1189 451.3L1192 452.1L1196 453.5L1200 455.3L1204 457.6L1208 460.3L1212 463.3L1220 470.5L1228 479.1L1236 488.8L1245.5 501.2L1250 508.7L1258.2 525.1L1261 530.1L1275 549.1L1280 555.3L1284 559.2L1287.2 561.3L1289 561.8L1290.5 562L1292 561.6L1293.5 560.5L1295.2 558.5L1297 555.7L1301 547.5L1310 526.3L1316 513.4L1322 502.6L1327.1 495.2L1346 474.2L1352 468.1L1357 463.4L1363 458.4L1368 454.9L1374 451.4L1379 449.2L1385 447.4L1390 446.7L1395.5 446.8L1401 447.8L1407 449.9L1413 452.9L1419 456.8L1425 461.7L1431 467.5L1436 473L1441 479.3L1446 486.2L1454 498.7L1470 526.8L1476 536.1L1479 539.7L1481.1 541.6L1483.6 543L1485.8 543.5L1488.3 543L1491.1 541.5L1494 538.9L1497 535.4L1503 526.6L1520 498.7L1528 487L1533 480.4L1539 473.3L1544 468.1L1550 462.6L1556 457.9L1563 453.4L1569 450.4L1575 448.3L1580.8 447L1586.3 446.6L1592 446.9L1598 448.1L1605 450.5L1609 452.3L1613 454.5L1621 459.9L1628 465.8L1635 473L1642 481.5L1649 491.6L1655 501.7L1660 511.5L1664 520.2L1669 532.4L1673 543.5L1678 559.2L1682 573.4L1693 618L1695.5 627.2L1697.2 632.5L1698.8 635.9L1700.2 637.9L1701.5 638.5L1703 637.9L1704.5 636.1L1706.2 632.8L1708 628.4L1711 619.1L1722 581.9L1726 569.9L1730 559.1L1734 549.5L1738 541L1742 533.4L1746 526.7L1751 519.5L1757 512.4L1762 507.7L1768 503.3L1771 501.7L1774 500.5L1779.2 499.2L1782 499L1785 499.2L1791 500.4L1794 501.4L1798 503.3L1802 505.6L1805 507.6L1812 513.6L1819 521.1L1826 530.6L1832 540.4L1838 552.2L1843 563.9L1848 577.6L1852 590.4L1856 605.2L1859 617.9L1862 632.3L1865 648.6L1874.8 710.9L1876.8 719.4L1877.8 721.5L1878.6 722L1879.3 721.6L1880.3 719.7L1882.3 712L1884.6 699.6L1891 659.6L1895 637.6L1900 614.4L1903 602.4L1906 591.6L1909 581.9L1913 570.3L1916 562.5L1920 553.1L1924 544.7L1929 535.3L1933 528.6L1938 521.2L1943 514.6L1948 508.7L1953 503.6L1959 498.2L1964 494.3L1970 490.4L1976 487.3L1982 484.8L1989 482.9L1992.8 482.3L1996.5 482L2025 482.1L2047.6 482.5" stroke="#a846f5" stroke-width="5.56" stroke-dasharray="33.3 22.3"/>
<path class="cv" d="M206 34.7L214 34.9L222 35.6L230 36.7L237 38L245 40L252 42L260 44.8L267 47.7L275 51.3L282 55L289 59L296 63.4L303 68.2L310 73.4L317 79L324 85.1L337 97.7L344 105.2L350 112L357 120.5L363 128.2L375 145.1L387 164.1L398 183.7L408 203.5L418 225.7L426 245.5L434 267.5L441 289L448 313.1L455 340.6L462 372.4L467 397.9L471 421.4L475 448.7L478 472.8L481 501.4L483 524.2L485 551.2L487 585.1L488.1 609.2L489.6 650.4L491.9 691.4L492.6 702.4L493 705.5L493.4 706.8L494 703.9L494.6 695.4L498.1 627.4L501 585.4L503 563.2L505 544.9L507 529.7L509 516.8L512 500.7L515 487.6L518 476.9L522 465.7L525 459.1L527 455.5L529 452.5L531 450.1L532.9 448.4L534.9 447.2L536.7 446.6L538.7 446.6L541.2 447L543.7 447.8L546 448.9L551 452.4L556 457.4L561 464L565 470.6L570 480.5L574 490L577 498.2L580 507.5L583 518L586 530L589 543.6L592 559.1L601.2 613.3L603.2 621.4L604.2 623.7L604.7 624.3L605.2 624.5L606.2 623.9L607.2 622L608.2 619.1L609.5 614.2L621 554L625 536.5L629 521.4L633 508.5L638 494.8L643 483.3L649 472.1L652 467.3L656 461.8L659 458.2L663 454.1L666 451.6L670 448.8L673 447.3L676.6 446L680 445.4L683.4 445.4L687.1 446L691 447.1L695 449L699 451.4L703 454.5L706 457.2L711 462.5L716 468.9L721 476.5L726 485.5L730 493.9L734 503.4L738 514.4L742 527.2L747 546.3L752 569.9L757 599.6L765.4 659.6L767.1 667.8L767.9 669.7L768.6 670.3L769.4 669.8L770.4 667.4L772.4 658.4L781 600.7L784 583.2L787 567.9L790 554.4L794 538.8L797 528.6L801 516.6L806 503.7L811 492.7L817 481.6L823 472.4L829 464.8L832 461.5L836 457.6L842 452.8L845 450.8L849 448.7L853 447L856 446.2L859.6 445.5L863 445.3L867.4 445.5L872 446.2L876 447.2L881 448.8L889 452.1L898 457L906 462.1L924 474.4L931 478.5L935 480.5L939 482L942.8 482.8L946.3 483.1L949.5 482.9L953 482.1L957 480.7L961 478.8L969 474L986 462.3L994 457.3L1002 452.9L1010 449.4L1018 447L1022.4 446.2L1026.4 445.9L1030 445.8L1033.6 446.2L1037 446.8L1041 447.9L1045 449.3L1049 451.2L1053 453.3L1057 455.9L1065 462L1073 469.5L1081 478.6L1089 489.1L1097 501L1110 521.6L1116 530.1L1119 533.5L1122.3 536.4L1125 537.9L1127.8 538.4L1130 538L1132.5 536.6L1135 534.4L1138 530.7L1144 521.4L1159 495.5L1167 483.1L1172 476.3L1177 470.2L1182 464.8L1187 460.1L1192 456.1L1198 452.2L1204 449.3L1209 447.6L1214.1 446.7L1219.1 446.6L1225 447.4L1230 448.8L1234 450.4L1239 452.9L1243 455.4L1247 458.2L1252 462.4L1256 466.3L1260 470.6L1264 475.4L1268 480.8L1272 486.9L1279 499.1L1285 511.7L1291 526.9L1296 542L1300 556.2L1304 572.8L1308 592.7L1311 610.3L1314 630.8L1322.5 701.6L1324 709.3L1324.5 711L1325.3 711.8L1326 711L1326.8 708.7L1328.3 700.2L1334 652.6L1337 629.4L1340 609.5L1343 592.3L1347 572.9L1351 556.5L1355 542.5L1360 527.6L1366 512.6L1372 500L1379 487.8L1383 481.8L1387 476.4L1391 471.5L1395 467.2L1399 463.3L1403 459.9L1407 456.8L1412 453.6L1416 451.5L1421 449.3L1427 447.5L1433.3 446.6L1440 446.7L1447 447.7L1454 449.3L1462 452.1L1469 455.3L1477 459.7L1484 464.4L1491 469.7L1497 474.7L1504 481.3L1510 487.5L1516 494.1L1538 520L1545 527.1L1549 530.3L1552 532.1L1555.5 533.5L1559 534L1564.5 533.5L1570 531.9L1576 529.2L1582 525.7L1593 517.9L1619 497.1L1633 486.6L1648 476.5L1662 468.4L1669 464.8L1677 461L1684 458.1L1692 455.1L1700 452.4L1707 450.5L1714 448.8L1721 447.5L1728 446.4L1735 445.7L1741.9 445.3L1748.2 445.3L1754 445.7L1760 446.5L1766 447.7L1772 449.2L1784 453.1L1797 458.6L1809 464.5L1833 477.3L1843 481.9L1849 484.2L1854 485.6L1858.9 486.5L1863.6 486.8L1868.1 486.6L1873 485.9L1878 484.6L1883 482.9L1893 478.5L1919 465.2L1932 459.1L1939 456.3L1946 453.9L1953 452L1959 450.6L1966 449.6L1972.1 449.1L1999 449.2L2025 449.9L2037 450.6L2047.6 451.6" stroke="#46ea2a" stroke-width="5.00"/>
<path class="cv" d="M206 34.7L214 34.9L221 35.5L228 36.4L235 37.6L243 39.4L250 41.4L257 43.7L264 46.4L272 49.9L279 53.4L286 57.2L293 61.4L300 66.1L307 71.1L320 81.6L333 93.6L340 100.8L346 107.4L358 121.7L370 137.9L381 154.4L392 172.8L402 191.4L412 212.1L421 232.9L429 253.5L436 273.4L443 295.6L450 320.6L456 344.9L461 367.9L466 394.3L470 418.6L473 439.6L476 463.6L479 492.1L481 514.6L483 541.2L486.1 597L489.3 641L490.6 655L491.1 658.1L491.6 659.2L492.1 658.5L492.6 656.5L493.6 649.1L499 588.6L503 553L507 526.4L511 506.2L514 494.1L517 484L520 475.6L523 468.7L526 463.1L528 460.1L530 457.6L533.4 454.5L535.2 453.5L536.9 453L539 452.9L541.4 453.2L543.7 453.9L546 455L548 456.2L551 458.5L555 462.4L560 468.8L564 475.2L568 482.7L572 491.7L575 499.4L578 508.1L583 525.1L586 537L589 550.3L599.1 600.8L600.4 605.6L601.6 609.1L602.6 610.8L603.6 611.4L604.9 610.7L606.1 608.7L607.4 605.5L608.9 600.4L620 551.3L626 528.6L632 510.1L638 495L642 486.6L646 479.2L650 472.9L655 466.2L660 460.9L665 456.7L670 453.8L674.4 452.2L676.9 451.7L679.4 451.6L682.1 451.8L685.1 452.4L688 453.3L691 454.5L697 458.1L703 463L709 469.3L715 477.2L720 485L724 492.2L728 500.3L732 509.5L735 517.1L739 528.3L743 540.9L747 554.7L754 580.4L757 590.4L758.7 595L760.4 598.7L761.9 600.7L762.7 601.2L763.4 601.4L764.7 600.9L766.2 599.4L767.7 596.8L769.4 592.6L773 581.8L783 547.5L789 529.2L792 521.1L796 511.2L800 502.3L804 494.4L808 487.4L813 479.6L818 473L823 467.3L828 462.6L833 458.7L839 455.1L844 453.1L848 452L851.8 451.6L855.8 451.7L860 452.4L864 453.6L868 455.2L872 457.2L877 460.3L885 466.5L889 470.1L894 475.1L902 484.1L917 502.3L923 508.6L926 511.1L929 513L931.8 514.1L934.3 514.5L937.3 514.2L940.3 513L944 510.8L947 508.3L953 502.2L969 483.7L978 474.2L983 469.5L987 466.2L992 462.4L996 459.9L1001 457.2L1005 455.5L1010 453.9L1014.5 453.1L1018.8 452.9L1023 453.2L1027 454L1032 455.6L1036 457.3L1040 459.5L1044 462L1048 465L1052 468.3L1056 472.1L1064 480.9L1071 490.2L1079 502.4L1086 514.6L1099 538.7L1104 546.8L1107 550.7L1109.2 552.8L1111.7 554.3L1113.9 554.8L1116 554.3L1118.2 552.9L1121 549.9L1123 547L1128 538.2L1142 510.1L1149 497.4L1153 490.9L1158 483.6L1163 477.1L1168 471.4L1173 466.4L1178 462.3L1184 458.3L1189 455.7L1194 454L1199.5 453L1204.5 453L1210 453.8L1213 454.6L1217 456.1L1224 459.7L1231 464.6L1238 470.9L1245 478.6L1251 486.6L1257 496L1262 505.1L1266 513.3L1270 522.4L1274 532.7L1278 544.2L1282 557.2L1286 571.6L1296 613L1299 624.4L1300.5 629L1302 632.6L1303.5 634.8L1304.7 635.3L1305.7 634.9L1307 633.4L1308.2 630.8L1309.7 626.5L1313 614.2L1322 576.3L1327 557.8L1333 539L1336 530.8L1340 520.9L1344 512.2L1348 504.5L1352 497.7L1357 490.2L1362 483.8L1367 478.4L1372 473.9L1377 470.2L1381 467.9L1384 466.5L1388 465.2L1391.2 464.5L1394.5 464.2L1398 464.3L1401.2 464.8L1405 465.8L1408 467L1412 469L1416 471.4L1420 474.4L1427 480.8L1434 488.9L1440 497.4L1445 505.6L1450 515L1455 525.8L1460 538.2L1465 552.2L1470 567.9L1478 594.6L1481 603.5L1482.9 608.1L1484.6 611.4L1486.4 613.4L1487.1 613.8L1488 613.9L1488.9 613.7L1489.6 613.1L1491.4 610.7L1493.1 607L1495 601.9L1498 592.1L1509 553.9L1513 541.6L1518 527.8L1522 518.1L1527 507.2L1531 499.5L1536 491L1542 482.2L1549 473.6L1555 467.5L1562 461.8L1569 457.5L1573 455.7L1576 454.6L1579 453.8L1582.8 453.1L1586 452.9L1589.3 453L1595 453.8L1600 455.2L1605 457.1L1610 459.7L1615 462.8L1620 466.6L1625 471L1630 476L1635 481.8L1639 487.1L1644 494.4L1648 501.1L1652 508.5L1656 516.8L1660 526.1L1663 533.9L1669 552.1L1674 570.6L1678 588.4L1682 610L1686 636.9L1689 662L1696.5 741.2L1697.5 747.8L1698 749.6L1698.5 750.2L1699.2 749.3L1700 746.9L1701.5 738L1708 683L1710 667.9L1713 648.1L1715 636.6L1718 621.3L1721 608.1L1724 596.6L1727 586.5L1731 574.9L1735 564.9L1740 554.3L1744 547.2L1749 539.8L1754 533.7L1759 529L1764 525.5L1769 523.2L1771.6 522.5L1774 522.1L1776.3 522.1L1778.8 522.4L1781.3 523L1784 524L1789 526.7L1792 528.8L1795 531.4L1800 536.5L1805 542.8L1809 548.7L1814 557.1L1818 564.9L1825 580.5L1838 614L1842 623L1844 626.5L1845.8 628.8L1847.5 630L1849.3 630.2L1850.8 629.3L1852.5 627L1854.3 623.4L1856 619.1L1859 609.9L1869 576.1L1875 557.7L1882 539.1L1886 529.8L1890 521.4L1894 513.7L1899 505L1903 498.8L1908 491.7L1913 485.4L1918 479.8L1923 474.8L1929 469.5L1934 465.7L1939 462.4L1944 459.7L1949 457.3L1955 455.2L1960 453.9L1965 453.1L1969.9 452.9L1982 453.1L1993 453.8L2004 455.1L2014 456.9L2023 459.1L2032 462L2040 465.3L2047.6 469.2" stroke="#000000" stroke-width="5.70"/>
</g>
<path d="M390.2 1087.4v-20.1M390.2 34.7v20.1M574.3 1087.4v-20.1M574.3 34.7v20.1M758.5 1087.4v-20.1M758.5 34.7v20.1M942.6 1087.4v-20.1M942.6 34.7v20.1M1126.8 1087.4v-20.1M1126.8 34.7v20.1M1311.0 1087.4v-20.1M1311.0 34.7v20.1M1495.1 1087.4v-20.1M1495.1 34.7v20.1M1679.3 1087.4v-20.1M1679.3 34.7v20.1M1863.4 1087.4v-20.1M1863.4 34.7v20.1M206.0 166.3h20.1M2047.6 166.3h-20.1M206.0 297.9h20.1M2047.6 297.9h-20.1M206.0 429.5h20.1M2047.6 429.5h-20.1M206.0 561.1h20.1M2047.6 561.1h-20.1M206.0 692.6h20.1M2047.6 692.6h-20.1M206.0 824.2h20.1M2047.6 824.2h-20.1M206.0 955.8h20.1M2047.6 955.8h-20.1" stroke="#262626" stroke-width="3" fill="none"/>
<rect x="206.0" y="34.7" width="1841.6" height="1052.7" fill="none" stroke="#262626" stroke-width="3"/>
<text class="tk" transform="translate(204.8 1169.3) scale(0.950 1)" text-anchor="middle">0</text>
<text class="tk" transform="translate(389.0 1169.3) scale(0.950 1)" text-anchor="middle">0.1</text>
<text class="tk" transform="translate(573.1 1169.3) scale(0.950 1)" text-anchor="middle">0.2</text>
<text class="tk" transform="translate(757.3 1169.3) scale(0.950 1)" text-anchor="middle">0.3</text>
<text class="tk" transform="translate(941.4 1169.3) scale(0.950 1)" text-anchor="middle">0.4</text>
<text class="tk" transform="translate(1125.6 1169.3) scale(0.950 1)" text-anchor="middle">0.5</text>
<text class="tk" transform="translate(1309.8 1169.3) scale(0.950 1)" text-anchor="middle">0.6</text>
<text class="tk" transform="translate(1493.9 1169.3) scale(0.950 1)" text-anchor="middle">0.7</text>
<text class="tk" transform="translate(1678.1 1169.3) scale(0.950 1)" text-anchor="middle">0.8</text>
<text class="tk" transform="translate(1862.2 1169.3) scale(0.950 1)" text-anchor="middle">0.9</text>
<text class="tk" transform="translate(2046.4 1169.3) scale(0.950 1)" text-anchor="middle">1</text>
<text class="tk" transform="translate(179.3 57.1) scale(0.966 1)" text-anchor="end">0</text>
<text class="tk" transform="translate(179.3 188.7) scale(0.966 1)" text-anchor="end">-10</text>
<text class="tk" transform="translate(179.3 320.3) scale(0.966 1)" text-anchor="end">-20</text>
<text class="tk" transform="translate(179.3 451.9) scale(0.966 1)" text-anchor="end">-30</text>
<text class="tk" transform="translate(179.3 583.5) scale(0.966 1)" text-anchor="end">-40</text>
<text class="tk" transform="translate(179.3 715.0) scale(0.966 1)" text-anchor="end">-50</text>
<text class="tk" transform="translate(179.3 846.6) scale(0.966 1)" text-anchor="end">-60</text>
<text class="tk" transform="translate(179.3 978.2) scale(0.966 1)" text-anchor="end">-70</text>
<text class="tk" transform="translate(179.3 1109.8) scale(0.966 1)" text-anchor="end">-80</text>
<text class="lb" y="1255"><tspan x="611.5" textLength="314.5">Normalized</tspan> <tspan x="944.0" textLength="312.5">Frequency(</tspan><tspan x="1261.5" font-family="'Liberation Serif', 'DejaVu Serif', serif" font-style="italic" font-size="66px">&#960;</tspan> <tspan x="1313.0" textLength="331.0">rad/sample)</tspan></text>
<text class="lb" transform="translate(63.0 869.0) rotate(-90)" textLength="613.0" lengthAdjust="spacing">Normalized Gain (dB)</text>
</svg></body></html>
